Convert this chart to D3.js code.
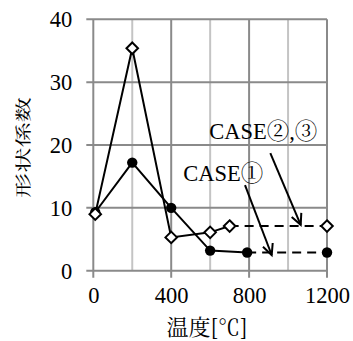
<!DOCTYPE html>
<html>
<head>
<meta charset="utf-8">
<script src="https://cdn.jsdelivr.net/npm/d3@7"></script>
<style>
  html, body { margin: 0; padding: 0; background: #fff; }
  svg { display: block; }
</style>
</head>
<body>
<script>
// Shape factor vs. temperature
const xTicks = [0, 400, 800, 1200];
const xMinorGrid = [200, 600, 1000];
const yTicks = [0, 10, 20, 30, 40];

// measured points (solid segments)
const caseA = [[10, 9.3], [200, 17.2], [400, 10.0], [600, 3.2], [790, 2.9]];
const caseB = [[10, 9.0], [200, 35.4], [400, 5.3], [600, 6.1], [700, 7.1]];
// extrapolated to 1200 (dashed segments)
const caseAExt = [[790, 2.9], [1200, 2.9]];
const caseBExt = [[700, 7.1], [1200, 7.1]];

const notes = [
  { label: "CASE②,③", x: 595, y: 20.95, from: [909, 18.7], to: [1065, 7.3] },
  { label: "CASE①", x: 462, y: 14.2, from: [779, 13.6], to: [916, 2.5] }
];

const SERIF = '"Liberation Serif", "Noto Serif CJK JP", serif';
const CJK = '"Noto Serif CJK JP", "Liberation Serif", serif';

const W = 353, H = 341;
const svg = d3.select("body").append("svg").attr("width", W).attr("height", H);

const x = d3.scaleLinear().domain([0, 1200]).range([93.3, 327]);
const y = d3.scaleLinear().domain([0, 40]).range([270.7, 19.3]);

const dark = "#8a8a8a", light = "#c4c4c4";

// minor vertical grid
svg.append("g").selectAll("line").data(xMinorGrid).join("line")
  .attr("x1", d => x(d)).attr("x2", d => x(d))
  .attr("y1", y(0)).attr("y2", y(40))
  .attr("stroke", light).attr("stroke-width", 2);

// horizontal grid + left ticks
svg.append("g").selectAll("line").data(yTicks).join("line")
  .attr("x1", x(0) - 7).attr("x2", x(1200))
  .attr("y1", d => y(d)).attr("y2", d => y(d))
  .attr("stroke", dark).attr("stroke-width", 2);

// major vertical grid + bottom ticks
svg.append("g").selectAll("line").data(xTicks).join("line")
  .attr("x1", d => x(d)).attr("x2", d => x(d))
  .attr("y1", y(0) + 7).attr("y2", y(40))
  .attr("stroke", dark).attr("stroke-width", 2);

// axis labels via d3 axes, domain/ticks hidden
const yAxis = svg.append("g").attr("transform", `translate(${x(0) - 21},0)`)
  .call(d3.axisLeft(y).tickValues(yTicks).tickSize(0).tickPadding(0).tickFormat(d3.format("d")));
yAxis.select(".domain").remove();
yAxis.attr("font-family", null).attr("font-size", null);
yAxis.selectAll("text").style("font-family", SERIF).style("font-size", "22.5px")
  .attr("fill", "#000").attr("dy", "0.33em");

const xAxis = svg.append("g").attr("transform", `translate(0,${y(0) + 14})`)
  .call(d3.axisBottom(x).tickValues(xTicks).tickSize(0).tickPadding(0).tickFormat(d3.format("d")));
xAxis.select(".domain").remove();
xAxis.attr("font-family", null).attr("font-size", null);
xAxis.selectAll("text").style("font-family", SERIF).style("font-size", "22.5px")
  .attr("fill", "#000").attr("dy", "0.8em");

// axis titles
svg.append("text").style("font-family", CJK).style("font-size", "22px")
  .attr("x", 207).attr("y", 335).attr("text-anchor", "middle")
  .attr("fill", "#000")
  .text("温度[℃]");

svg.append("text").style("font-family", CJK).style("font-size", "21px")
  .attr("transform", "translate(29,147.5) rotate(-90) scale(1.2,0.78)")
  .attr("text-anchor", "middle").attr("fill", "#000")
  .text("形状係数");

const line = d3.line().x(d => x(d[0])).y(d => y(d[1]));

function series(pts, ext) {
  svg.append("path").attr("d", line(pts)).attr("fill", "none")
    .attr("stroke", "#000").attr("stroke-width", 2);
  svg.append("path").attr("d", line(ext)).attr("fill", "none")
    .attr("stroke", "#000").attr("stroke-width", 2).attr("stroke-dasharray", "9,6");
}

series(caseA, caseAExt);
series(caseB, caseBExt);

// filled circles
svg.append("g").selectAll("circle").data(caseA.concat([caseAExt[1]])).join("circle")
  .attr("cx", d => x(d[0])).attr("cy", d => y(d[1])).attr("r", 5.2)
  .attr("fill", "#000");

// open diamonds
const dia = d3.symbol().type(d3.symbolDiamond2).size(85);
svg.append("g").selectAll("path").data(caseB.concat([caseBExt[1]])).join("path")
  .attr("transform", d => `translate(${x(d[0])},${y(d[1])})`)
  .attr("d", dia())
  .attr("fill", "#fff").attr("stroke", "#000").attr("stroke-width", 2);

// annotations with open arrowheads
notes.forEach(n => {
  svg.append("text").style("font-family", SERIF).style("font-size", "22.5px")
    .attr("x", x(n.x)).attr("y", y(n.y))
    .attr("fill", "#000")
    .text(n.label);
  const x1 = x(n.from[0]), y1 = y(n.from[1]), x2 = x(n.to[0]), y2 = y(n.to[1]);
  svg.append("line").attr("x1", x1).attr("y1", y1).attr("x2", x2).attr("y2", y2)
    .attr("stroke", "#000").attr("stroke-width", 2);
  const a = Math.atan2(y2 - y1, x2 - x1), L = 12, s = 0.45;
  const head = [
    [x2 - L * Math.cos(a - s), y2 - L * Math.sin(a - s)],
    [x2, y2],
    [x2 - L * Math.cos(a + s), y2 - L * Math.sin(a + s)]
  ];
  svg.append("path").attr("d", d3.line()(head)).attr("fill", "none")
    .attr("stroke", "#000").attr("stroke-width", 2);
});
</script>
</body>
</html>
